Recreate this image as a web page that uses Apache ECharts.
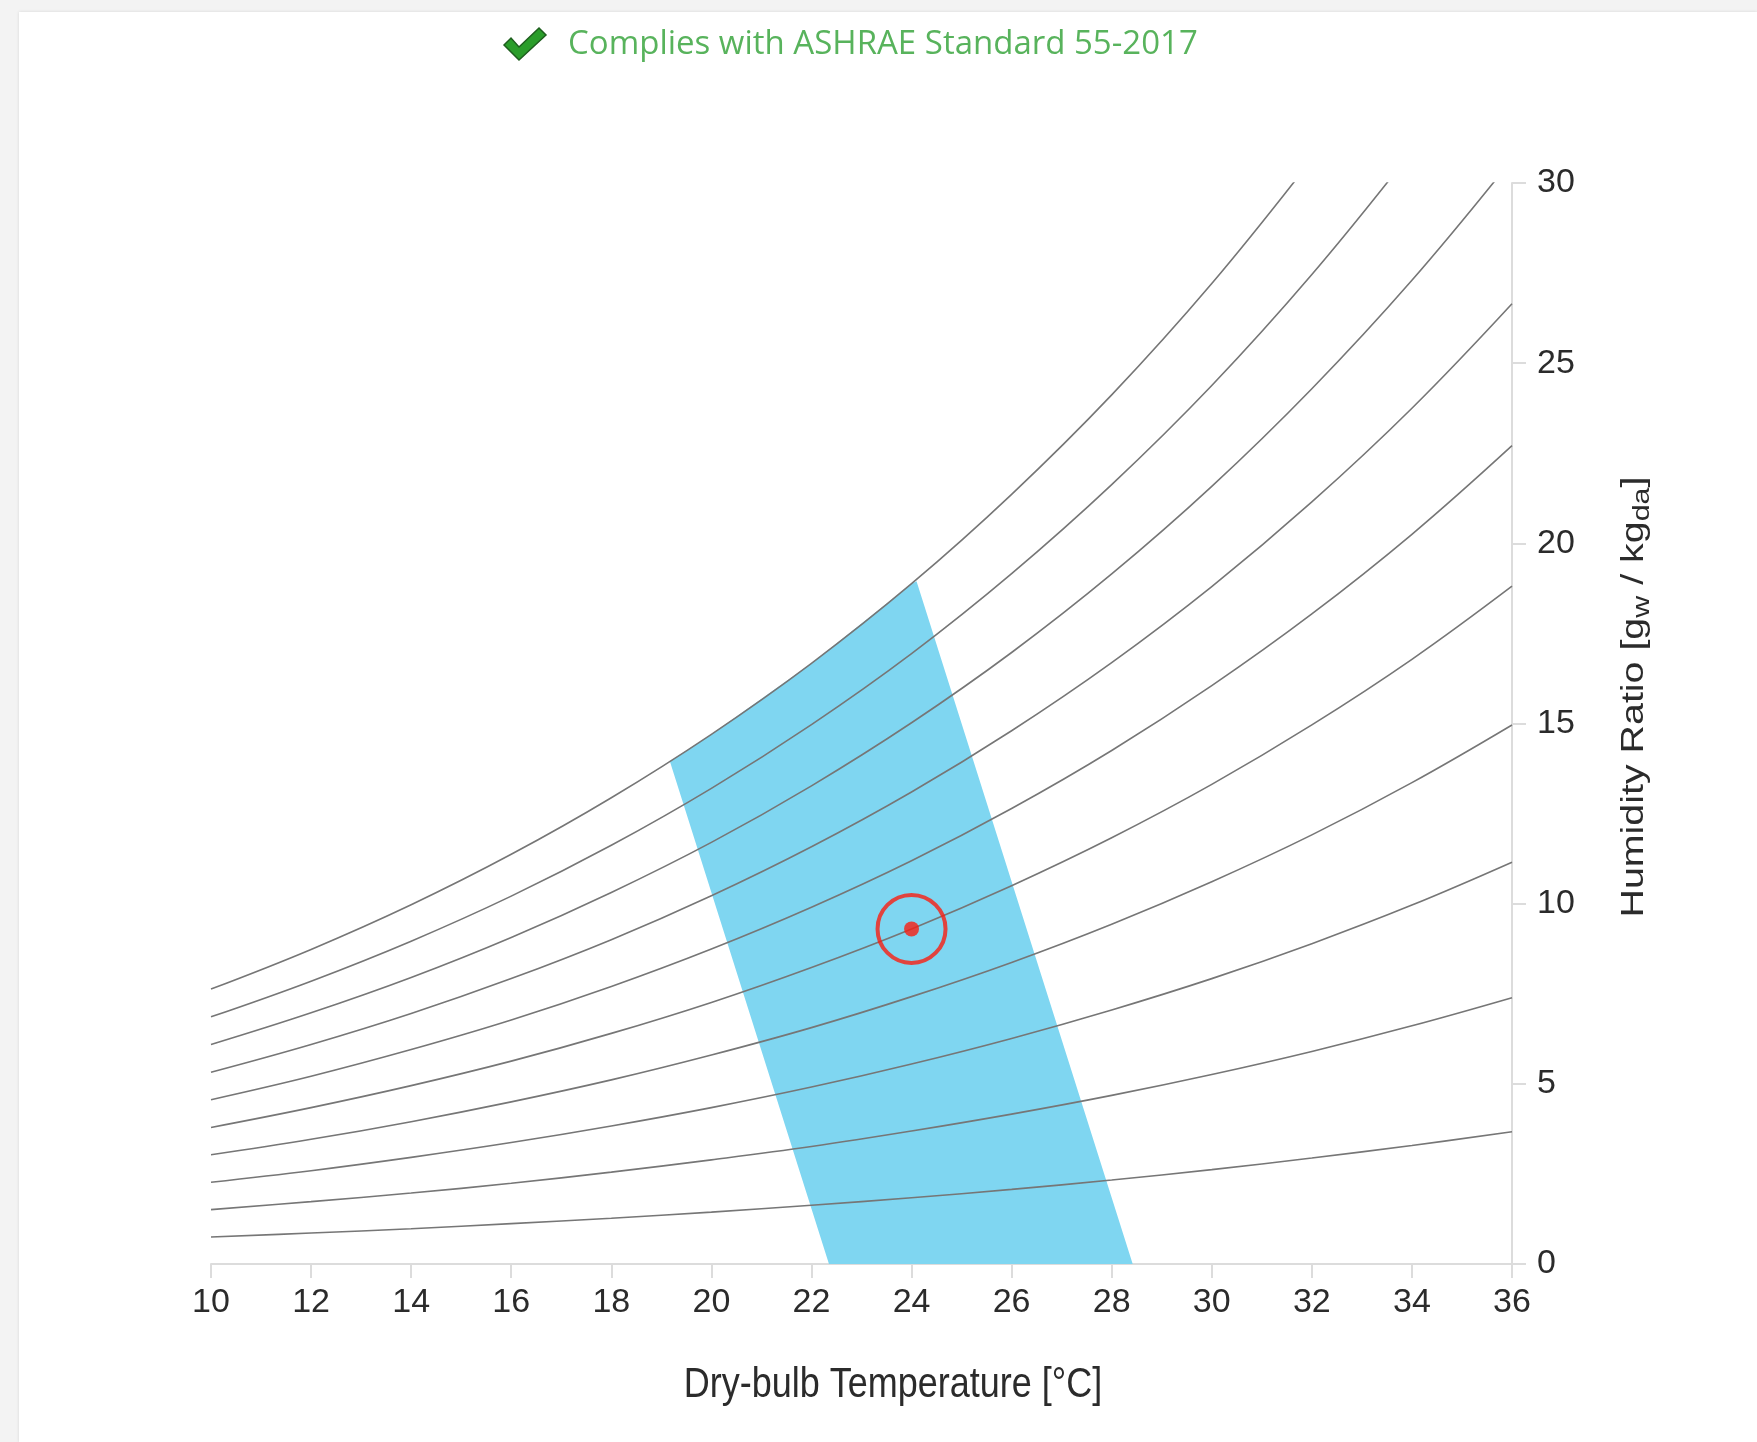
<!DOCTYPE html>
<html>
<head>
<meta charset="utf-8">
<script src="https://cdn.jsdelivr.net/npm/echarts@6/dist/echarts.min.js"></script>
<style>
  html, body { margin: 0; padding: 0; width: 1757px; height: 1442px; overflow: hidden; background: #f3f3f3; }
  #panel { position: absolute; left: 19px; top: 12px; right: 0; bottom: 0; background: #fff; box-shadow: 0 0 3px rgba(0,0,0,0.12); }
  #chart { position: absolute; left: 0; top: 0; width: 1757px; height: 1442px; }
</style>
</head>
<body>
<div id="panel"></div>
<div id="chart"></div>
<script>
// Dry-bulb temperature grid [°C]
const temperatures = [10, 12, 14, 16, 18, 20, 22, 24, 26, 28, 30, 32, 34, 36];

// Humidity ratio [g/kg] along each relative-humidity line (10 % … 100 %)
const rh10  = [0.75, 0.86, 0.98, 1.12, 1.27, 1.44, 1.63, 1.84, 2.07, 2.33, 2.62, 2.94, 3.29, 3.67];
const rh20  = [1.51, 1.73, 1.97, 2.24, 2.55, 2.89, 3.26, 3.69, 4.16, 4.68, 5.26, 5.90, 6.61, 7.39];
const rh30  = [2.27, 2.59, 2.96, 3.37, 3.83, 4.34, 4.91, 5.55, 6.26, 7.05, 7.92, 8.89, 9.96, 11.15];
const rh40  = [3.03, 3.46, 3.95, 4.50, 5.11, 5.80, 6.56, 7.42, 8.37, 9.43, 10.61, 11.91, 13.36, 14.96];
const rh50  = [3.79, 4.34, 4.95, 5.63, 6.40, 7.26, 8.23, 9.30, 10.50, 11.83, 13.31, 14.96, 16.78, 18.81];
const rh60  = [4.56, 5.21, 5.95, 6.77, 7.70, 8.74, 9.90, 11.19, 12.64, 14.25, 16.05, 18.04, 20.25, 22.71];
const rh70  = [5.32, 6.09, 6.95, 7.92, 9.00, 10.22, 11.58, 13.10, 14.80, 16.69, 18.80, 21.15, 23.75, 26.65];
const rh80  = [6.09, 6.97, 7.95, 9.06, 10.31, 11.70, 13.27, 15.02, 16.97, 19.15, 21.58, 24.29, 27.30, 30.65];
const rh90  = [6.86, 7.85, 8.96, 10.21, 11.62, 13.20, 14.97, 16.94, 19.16, 21.63, 24.38, 27.46, 30.88];
const rh100 = [7.63, 8.73, 9.97, 11.37, 12.94, 14.70, 16.67, 18.88, 21.36, 24.12, 27.21, 30.66];

// Comfort zone outline (temperature, humidity ratio), top edge on the saturation line
const zoneT = [19.17, 20, 22, 24, 24.1, 28.42, 22.35];
const zoneW = [13.95, 14.70, 16.67, 18.88, 18.95, 0, 0];

// Current operating point
const pointT = [24];
const pointW = [9.3];

const rhLines = [rh10, rh20, rh30, rh40, rh50, rh60, rh70, rh80, rh90, rh100];

const sans = "'Liberation Sans', Arial, sans-serif";
const axisGrey = '#dcdcdc';
const textColor = '#2b2b2b';
const red = '#fa1e12';

const chart = echarts.init(document.getElementById('chart'), null, { renderer: 'canvas' });

const lineSeries = rhLines.map(vals => ({
  type: 'line',
  data: vals.map((w, i) => [temperatures[i], w]),
  showSymbol: false,
  smooth: 0.4,
  clip: true,
  silent: true,
  z: 3,
  lineStyle: { color: '#767676', width: 1.6 }
}));

chart.setOption({
  animation: false,
  backgroundColor: 'transparent',
  grid: { left: 211, right: 245, top: 183, bottom: 178 },
  xAxis: {
    type: 'value', min: 10, max: 36, interval: 2,
    axisLine: { show: true, onZero: false, lineStyle: { color: axisGrey, width: 2 } },
    axisTick: { show: true, length: 14, lineStyle: { color: axisGrey, width: 2 } },
    axisLabel: { margin: 22, fontSize: 34, fontFamily: sans, color: textColor },
    splitLine: { show: false }
  },
  yAxis: {
    type: 'value', position: 'right', min: 0, max: 30, interval: 5,
    axisLine: { show: true, onZero: false, lineStyle: { color: axisGrey, width: 2 } },
    axisTick: { show: true, length: 14, lineStyle: { color: axisGrey, width: 2 } },
    axisLabel: { margin: 25, fontSize: 34, fontFamily: sans, color: textColor },
    splitLine: { show: false }
  },
  graphic: [
    {
      type: 'polygon',
      shape: { points: [[504, 45], [511, 38], [519, 47], [539, 28], [546, 35], [519, 60]] },
      style: { fill: '#2a9d2a', stroke: '#1e5e1e', lineWidth: 1.5 }
    },
    {
      type: 'text', x: 568, y: 45,
      style: {
        text: 'Complies with ASHRAE Standard 55-2017',
        font: '33px "Open Sans"', fill: '#58b35c', verticalAlign: 'middle'
      }
    },
    {
      // x-axis title
      type: 'text', x: 893, y: 1385, scaleY: 1.18,
      style: {
        text: 'Dry-bulb Temperature [°C]',
        fontSize: 36, fontFamily: sans, fill: textColor,
        align: 'center', verticalAlign: 'middle'
      }
    },
    {
      // y-axis title
      type: 'text', x: 1634, y: 697, rotation: Math.PI / 2, scaleX: 1.27,
      style: {
        text: 'Humidity Ratio [g{s|w} / kg{s|da}]',
        fontSize: 31, fontFamily: sans,
        lineHeight: 40, fill: textColor, align: 'center', verticalAlign: 'middle',
        rich: {
          s: { fontSize: 24, fontFamily: sans, lineHeight: 24, verticalAlign: 'bottom', fill: textColor }
        }
      }
    }
  ],
  series: [
    {
      type: 'custom',
      silent: true,
      z: 1,
      data: [[zoneT[0], zoneW[0]]],
      renderItem: (params, api) => ({
        type: 'polygon',
        shape: { points: zoneT.map((t, i) => api.coord([t, zoneW[i]])) },
        style: { fill: '#7fd6f1' }
      })
    },
    ...lineSeries,
    {
      type: 'scatter', z: 5, silent: true,
      data: pointT.map((t, i) => [t, pointW[i]]),
      symbol: 'circle', symbolSize: 68,
      itemStyle: { color: 'rgba(0,0,0,0)', borderColor: red, borderWidth: 4 }
    },
    {
      type: 'scatter', z: 6, silent: true,
      data: pointT.map((t, i) => [t, pointW[i]]),
      symbol: 'circle', symbolSize: 15,
      itemStyle: { color: red }
    }
  ]
});
</script>
</body>
</html>
